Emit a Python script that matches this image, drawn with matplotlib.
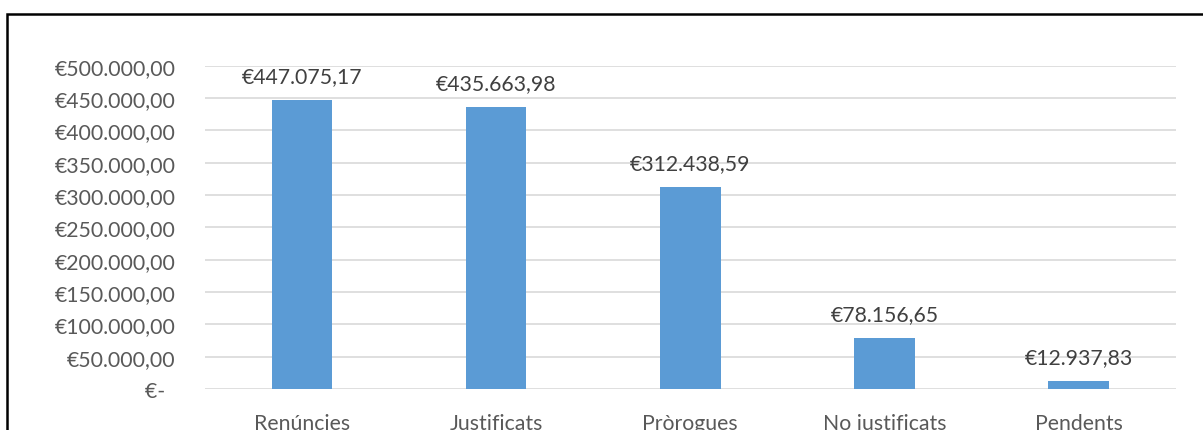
import matplotlib
matplotlib.use("Agg")
import matplotlib.pyplot as plt
from matplotlib.patches import Rectangle
from matplotlib.ticker import FuncFormatter, MultipleLocator

categories = ["Renúncies", "Justificats", "Pròrogues", "No justificats", "Pendents"]
amounts = [447075.17, 435663.98, 312438.59, 78156.65, 12937.83]

plt.rcParams['font.family'] = ['Lato', 'DejaVu Sans']


def euro(value, decimals=2):
    # 1234567.8 -> 1.234.567,80
    s = f"{value:,.{decimals}f}"
    return "€" + s.replace(",", "X").replace(".", ",").replace("X", ".")


def tick_fmt(v, pos):
    if abs(v) < 1e-6:
        return "€-  "  # accounting style zero, sits a bit left
    return euro(v)


fig = plt.figure(figsize=(12.03, 4.31), dpi=100)
ax = fig.add_axes([0.1704, 0.0951, 0.8068, 0.7501])

x = range(len(categories))
ax.bar(x, amounts, width=0.312, color="#5B9BD5", zorder=3)

for i, v in zip(x, amounts):
    ax.annotate(euro(v), (i, v), xytext=(0, 10), textcoords="offset points",
                ha="center", va="bottom", fontsize=15.3, color="#404040")

ax.set_xlim(-0.5, len(categories) - 0.5)
ax.set_ylim(0, 500000)
ax.yaxis.set_major_locator(MultipleLocator(50000))
ax.yaxis.set_major_formatter(FuncFormatter(tick_fmt))
ax.set_xticks(list(x))
ax.set_xticklabels(categories)
ax.grid(axis="y", color="#D9D9D9", linewidth=1.2, zorder=0)
ax.tick_params(length=0, labelsize=15.3, labelcolor="#595959")
ax.tick_params(axis="y", pad=21)
ax.tick_params(axis="x", pad=17)
for s in ax.spines.values():
    s.set_visible(False)

# outer chart border (cropped at right and bottom in the source)
fig.patches.append(Rectangle((7 / 1203, -0.2), 1.2, 0.2 + 1 - 15 / 431,
                             transform=fig.transFigure, fill=False,
                             edgecolor="black", linewidth=1.8))

fig.savefig("out.png", dpi=100)
